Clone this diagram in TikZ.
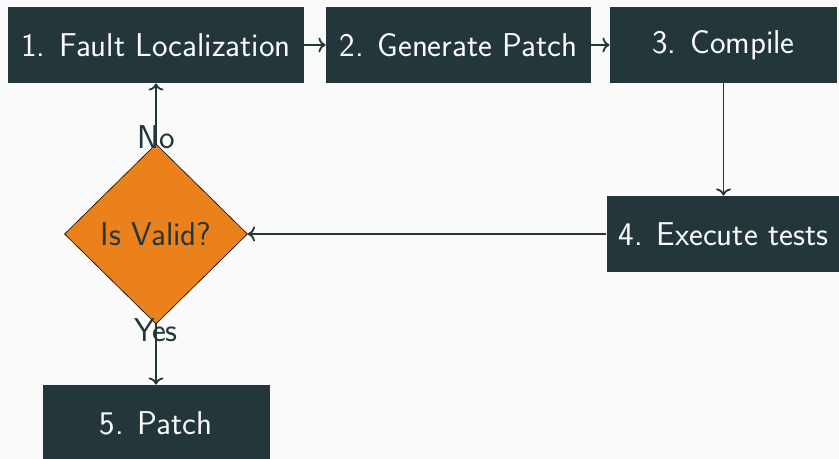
\documentclass[tikz,border=0pt]{standalone}
\usepackage{tikz}
\usetikzlibrary{arrows.meta,shapes.geometric,positioning}
\definecolor{mDark}{HTML}{23373B}
\definecolor{mLight}{HTML}{FAFAFA}
\definecolor{mOrange}{HTML}{EB811B}

\begin{document}
\begin{tikzpicture}[x=0.5pt,y=-0.5pt,
    font=\sffamily\fontsize{16.5}{19}\selectfont,
    box/.style={fill=mDark,text=mLight,minimum height=38pt,inner sep=0pt},
    decision/.style={diamond,draw=black,line width=0.3pt,fill=mOrange,text=mDark,
      minimum width=91.5pt,minimum height=90pt,inner sep=0pt},
    line/.style={draw=mDark,line width=0.9pt,->},
    answer/.style={text=mDark,inner sep=0pt}]
  \fill[mLight] (0,0) rectangle (839,459);
  \useasboundingbox (0,0) rectangle (839,459);
  \begin{scope}
  \clip (0,0) rectangle (839,459);
  \node[box,minimum width=148pt] (fl) at (156,45) {1. Fault Localization};
  \node[box,minimum width=132.5pt] (gp) at (458.5,45) {2. Generate Patch};
  \node[box,minimum width=113.5pt] (cp) at (723.5,45) {3. Compile};
  \node[box,minimum width=117pt] (et) at (723.5,234) {4. Execute tests};
  \node[decision] (valid) at (156,234) {Is Valid?};
  \node[box,minimum width=113.5pt] (pt) at (156,423) {5. Patch};
  \end{scope}
  \draw[line] (fl) -- (gp);
  \draw[line] (gp) -- (cp);
  \draw[line] (cp) -- (et);
  \draw[line] (et) -- (valid);
  \draw[line] (valid) -- node[answer,pos=0.1] {No} (fl);
  \draw[line] (valid) -- node[answer,pos=0.1] {Yes} (pt);
\end{tikzpicture}
\end{document}
